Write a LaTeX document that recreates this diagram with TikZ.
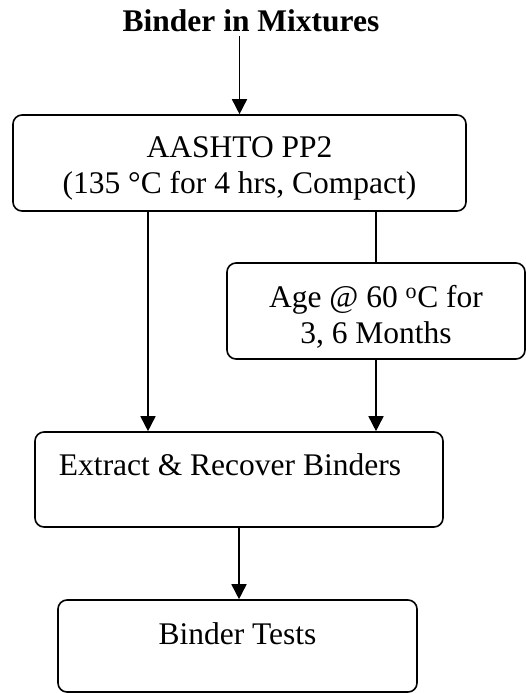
\documentclass[tikz,border=0pt]{standalone}
\usepackage{fontspec}
\setmainfont{Liberation Serif}
\usepackage{tikz}
\usetikzlibrary{arrows.meta}

\begin{document}
\begin{tikzpicture}[
  x=1pt, y=-1pt,
  font=\fontsize{31.5}{35.5}\selectfont,
  box/.style={draw, line width=1.6pt, rounded corners=9pt, align=center, inner sep=0pt, anchor=base},
  arr/.style={-{Triangle[length=15pt, width=15pt]}, line width=1.6pt}
]
\useasboundingbox (0,0) rectangle (526,693);

\node[font=\fontsize{31.5}{35.5}\selectfont\bfseries, anchor=base] (title) at (251,32) {Binder in Mixtures};
\node[box, minimum width=453pt, text height=78pt, text depth=18pt] (pp2) at (239.5,193)
  {AASHTO PP2\\(135 °C for 4 hrs, Compact)};
\node[box, minimum width=298pt, text height=80pt, text depth=16pt] (age) at (376,343)
  {Age @ 60 \textsuperscript{o}C for\\3, 6 Months};
\node[box, minimum width=408pt, text height=43pt, text depth=52pt] (ext) at (239,475)
  {Extract \& Recover Binders\hspace*{18pt}};
\node[box, minimum width=359pt, text height=44pt, text depth=48pt] (tests) at (237.5,644)
  {Binder Tests};

\draw[arr] (pp2.north |- title.south) -- (pp2.north);
\draw[arr] ([xshift=-91.5pt]pp2.south) -- ([xshift=-91.5pt]pp2.south |- ext.north);
\draw[line width=1.6pt] (age.north |- pp2.south) -- (age.north);
\draw[arr] (age.south) -- (age.south |- ext.north);
\draw[arr] (ext.south) -- (ext.south |- tests.north);
\end{tikzpicture}
\end{document}
